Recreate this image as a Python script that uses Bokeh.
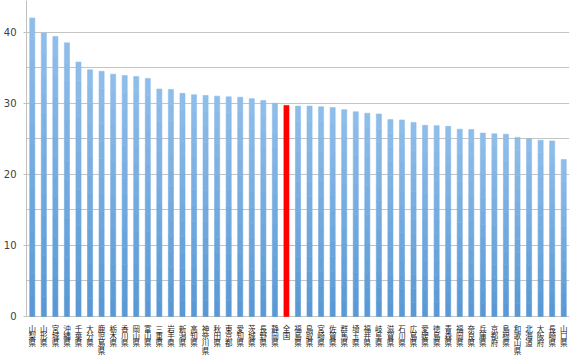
from bokeh.plotting import figure
from bokeh.models import FactorRange, Range1d, FixedTicker, ColumnDataSource
from bokeh.core.properties import value
from bokeh.embed import file_html
from bokeh.resources import INLINE

names = ["山梨県", "山形県", "宮城県", "沖縄県", "千葉県", "大分県", "鹿児島県", "栃木県",
         "香川県", "岡山県", "富山県", "三重県", "岩手県", "新潟県", "高知県", "神奈川県",
         "秋田県", "東京都", "愛知県", "茨城県", "長野県", "静岡県", "全国", "福島県",
         "鳥取県", "宮崎県", "佐賀県", "群馬県", "埼玉県", "福井県", "岐阜県", "滋賀県",
         "石川県", "広島県", "愛媛県", "徳島県", "青森県", "福岡県", "奈良県", "兵庫県",
         "京都府", "島根県", "和歌山県", "北海道", "大阪府", "長崎県", "山口県"]
values = [42.0, 39.9, 39.4, 38.5, 35.8, 34.7, 34.5, 34.1,
          33.9, 33.75, 33.5, 32.0, 31.95, 31.4, 31.2, 31.1,
          31.0, 30.9, 30.85, 30.65, 30.4, 30.0, 29.7, 29.6,
          29.6, 29.5, 29.4, 29.1, 28.8, 28.6, 28.5, 27.7,
          27.65, 27.3, 26.9, 26.85, 26.75, 26.35, 26.3, 25.8,
          25.7, 25.65, 25.2, 25.0, 24.8, 24.7, 22.1]
highlight = "全国"
y_major = [0, 10, 20, 30, 40]
y_minor = [5, 15, 25, 35]

# per-bar vertical gradient (dark at the base, light at the top), drawn as bands
bottom_rgb = (88, 152, 212)
top_rgb = (145, 190, 234)
n_bands = 14

def mix(t):
    r, g, b = (round(a + (c - a) * t) for a, c in zip(bottom_rgb, top_rgb))
    return "#%02x%02x%02x" % (r, g, b)

bx, bb, bt, bc = [], [], [], []
for n, v in zip(names, values):
    if n == highlight:
        bx.append(n); bb.append(0); bt.append(v); bc.append("#ff0000")
        continue
    for j in range(n_bands):
        bx.append(n)
        bb.append(v * j / n_bands)
        bt.append(v * (j + 1) / n_bands)
        bc.append(mix((j + 0.5) / n_bands))
src = ColumnDataSource(dict(x=bx, bottom=bb, top=bt, color=bc))

# vertical labels: one character per row, stacked beneath each bar
lx, lt, loff = [], [], []
for n in names:
    for i, ch in enumerate(n):
        lx.append(n)
        lt.append(ch)
        loff.append(6.3 + i * 7.33)
lab = ColumnDataSource(dict(x=lx, y=[0] * len(lx), text=lt, off=loff))

p = figure(width=572, height=356, output_backend="svg", toolbar_location=None,
           x_range=FactorRange(factors=names, range_padding=0),
           y_range=Range1d(-5.63, 44.46),
           min_border_left=26, min_border_right=3, min_border_top=0, min_border_bottom=0)
p.outline_line_color = None

p.vbar(x="x", top="top", bottom="bottom", width=0.44, fill_color="color",
       line_color="color", line_width=0.6, source=src)
p.text(x="x", y="y", text="text", y_offset="off", source=lab,
       text_font=value("Noto Sans CJK JP"), text_font_size="7.5px",
       text_align="center", text_baseline="top", text_color="#1a1a1a")

p.xaxis.visible = False
p.xgrid.grid_line_color = None
p.ygrid.ticker = FixedTicker(ticks=y_major, minor_ticks=y_minor)
p.ygrid.grid_line_color = "#c4c4c4"
p.ygrid.minor_grid_line_color = "#c4c4c4"

p.yaxis.ticker = FixedTicker(ticks=y_major, minor_ticks=y_minor)
p.yaxis.bounds = (0, 44.46)
p.yaxis.axis_line_color = "#c0c0c0"
p.yaxis.major_tick_line_color = "#c0c0c0"
p.yaxis.major_tick_out = 3
p.yaxis.major_tick_in = 0
p.yaxis.minor_tick_line_color = None
p.yaxis.major_label_standoff = 6
p.yaxis.major_label_text_font = "DejaVu Sans"
p.yaxis.major_label_text_font_size = "10px"
p.yaxis.major_label_text_color = "#404040"

open("out.html", "w").write(file_html(p, INLINE))
